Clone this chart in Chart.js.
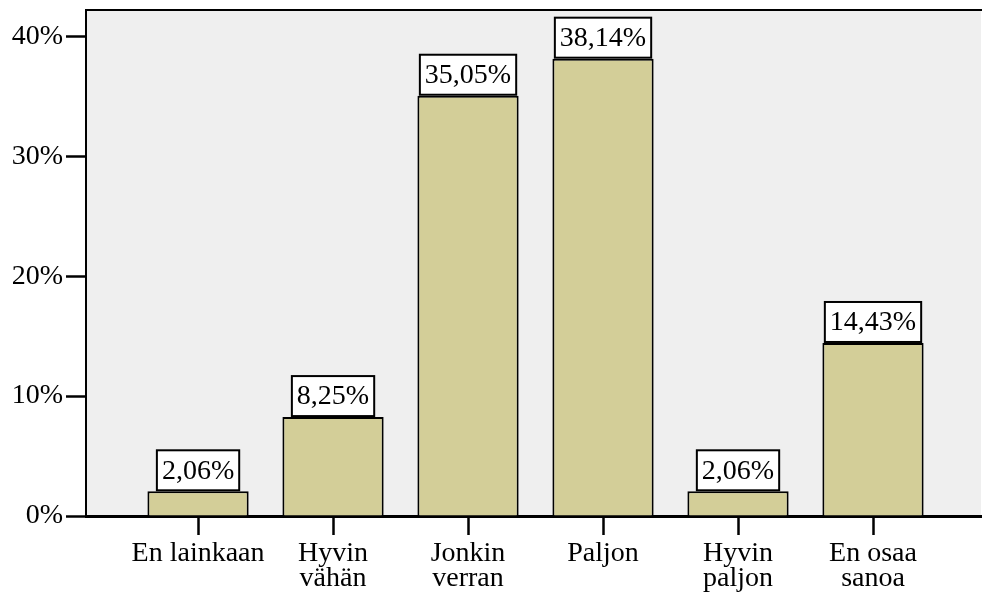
<!DOCTYPE html>
<html lang="fi">
<head>
  <meta charset="UTF-8">
  <title>Kaavio</title>
  <script src="https://cdn.jsdelivr.net/npm/chart.js"></script>
  <style>
    body { margin: 0; background: #fff; }
  </style>
</head>
<body>
  <canvas id="chart" width="982" height="598"></canvas>

  <script>
    // luokat ja osuudet (%)
    const categories = [
      ['En lainkaan'],
      ['Hyvin', 'vähän'],
      ['Jonkin', 'verran'],
      ['Paljon'],
      ['Hyvin', 'paljon'],
      ['En osaa', 'sanoa']
    ];
    const percents = [2.06, 8.25, 35.05, 38.14, 2.06, 14.43];
    const yTicks = [0, 10, 20, 30, 40];

    const fontFamily = "'Liberation Serif', 'DejaVu Serif', serif";
    Chart.defaults.font.family = fontFamily;
    Chart.defaults.font.size = 28;
    Chart.defaults.color = '#000';

    // harmaa tausta ja yläreuna piirtoalueelle
    const plotFrame = {
      id: 'plotFrame',
      beforeDraw(chart) {
        const { ctx, chartArea: a } = chart;
        ctx.save();
        ctx.fillStyle = '#efefef';
        ctx.fillRect(a.left, a.top, a.right - a.left, a.bottom - a.top);
        ctx.strokeStyle = '#000';
        ctx.lineWidth = 2;
        ctx.beginPath();
        ctx.moveTo(a.left, a.top);
        ctx.lineTo(chart.width, a.top);
        ctx.stroke();
        ctx.restore();
      }
    };

    // arvolaatikot pylväiden päälle
    const valueBoxes = {
      id: 'valueBoxes',
      afterDatasetsDraw(chart) {
        const { ctx } = chart;
        const meta = chart.getDatasetMeta(0);
        ctx.save();
        ctx.font = '28px ' + fontFamily;
        ctx.textAlign = 'center';
        ctx.textBaseline = 'middle';
        meta.data.forEach((bar, i) => {
          const txt = percents[i].toFixed(2).replace('.', ',') + '%';
          const w = ctx.measureText(txt).width + 10;
          const h = 40;
          const x = bar.x - w / 2;
          const y = bar.y - h - 1;
          ctx.fillStyle = '#fff';
          ctx.fillRect(x, y, w, h);
          ctx.strokeStyle = '#000';
          ctx.lineWidth = 2;
          ctx.strokeRect(x, y, w, h);
          ctx.fillStyle = '#000';
          ctx.fillText(txt, bar.x, y + h / 2 + 1);
        });
        ctx.restore();
      }
    };

    new Chart(document.getElementById('chart'), {
      type: 'bar',
      data: {
        datasets: [{
          data: percents.map((v, i) => ({ x: i, y: v })),
          backgroundColor: 'rgb(211, 206, 152)',
          borderColor: '#000',
          borderWidth: 2,
          borderSkipped: 'start',
          categoryPercentage: 1,
          barPercentage: 0.75
        }]
      },
      options: {
        responsive: false,
        animation: false,
        devicePixelRatio: 1,
        layout: { padding: { top: 10, right: 1, left: 0, bottom: 0 } },
        plugins: {
          legend: { display: false },
          tooltip: { enabled: false }
        },
        scales: {
          x: {
            type: 'linear',
            offset: false,
            min: -0.83,
            max: 5.8,
            afterBuildTicks: s => { s.ticks = categories.map((c, i) => ({ value: i })); },
            afterFit: s => {
              s.height = 82;
              s.paddingLeft = 0; s.paddingRight = 0;
            },
            ticks: {
              autoSkip: false,
              maxRotation: 0,
              padding: 6,
              font: { size: 28, lineHeight: '25px' },
              callback: v => categories[v]
            },
            grid: {
              offset: false,
              drawOnChartArea: false,
              tickLength: 19,
              tickWidth: 2.5,
              tickColor: '#000'
            },
            border: { color: '#000', width: 3 }
          },
          y: {
            min: 0,
            max: 42.2,
            afterBuildTicks: s => { s.ticks = yTicks.map(v => ({ value: v })); },
            afterFit: s => {
              s.width = 86;
              s.paddingTop = 0; s.paddingBottom = 0;
            },
            ticks: {
              padding: 3,
              callback: v => v + '%'
            },
            grid: {
              drawOnChartArea: false,
              tickLength: 20,
              tickWidth: 2.5,
              tickColor: '#000'
            },
            border: { color: '#000', width: 2 }
          }
        }
      },
      plugins: [plotFrame, valueBoxes]
    });
  </script>
</body>
</html>
